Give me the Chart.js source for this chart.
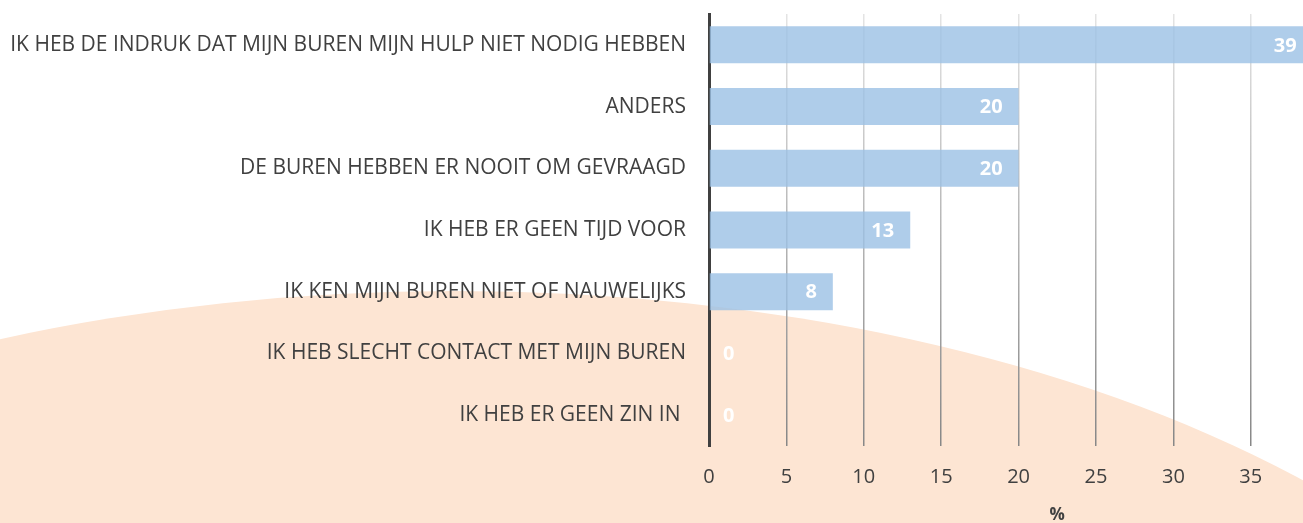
<!DOCTYPE html>
<html>
<head>
<meta charset="utf-8">
<script src="https://cdn.jsdelivr.net/npm/chart.js@4.4.1/dist/chart.umd.min.js"></script>
<style>
  html, body { margin: 0; padding: 0; background: #ffffff; overflow: hidden; }
  #frame { width: 1303px; height: 523px; overflow: hidden; position: relative; }
  #reasons { position: absolute; left: 0; top: 0; }
</style>
</head>
<body>
<div id="frame">
  <canvas id="reasons" width="1436" height="523"></canvas>
</div>
<script>
// ===== data =====
const categories = [
    'IK HEB DE INDRUK DAT MIJN BUREN MIJN HULP NIET NODIG HEBBEN',
    'ANDERS',
    'DE BUREN HEBBEN ER NOOIT OM GEVRAAGD',
    'IK HEB ER GEEN TIJD VOOR',
    'IK KEN MIJN BUREN NIET OF NAUWELIJKS',
    'IK HEB SLECHT CONTACT MET MIJN BUREN',
    'IK HEB ER GEEN ZIN IN '
];
const percentages = [39, 20, 20, 13, 8, 0, 0];
const axisMin = 0;
const axisMax = 45;
const axisStep = 5;
const axisTitle = '%';

const TEXT = '#404040';
const FONT = "'Open Sans', 'DejaVu Sans', sans-serif";

// peach blob behind the chart
const backdrop = {
    id: 'backdrop',
    beforeDraw(chart) {
        const ctx = chart.ctx;
        ctx.save();
        ctx.fillStyle = '#FDE5D3';
        ctx.beginPath();
        ctx.ellipse(455, 925, 1190, 634, 0, 0, Math.PI * 2);
        ctx.fill();
        ctx.restore();
    }
};

// white value labels at the inner end of each bar
const valueLabels = {
    id: 'valueLabels',
    afterDatasetsDraw(chart) {
        const ctx = chart.ctx;
        const meta = chart.getDatasetMeta(0);
        ctx.save();
        ctx.font = "bold 20px " + FONT;
        ctx.fillStyle = '#ffffff';
        ctx.textAlign = 'right';
        ctx.textBaseline = 'middle';
        meta.data.forEach((bar, i) => {
            const txt = String(percentages[i]);
            const w = ctx.measureText(txt).width;
            const x = Math.max(bar.x - 16, bar.base + 14 + w);
            ctx.fillText(txt, x, bar.y + 1);
        });
        ctx.restore();
    }
};

let gridGradient = null;
function gridColor(context) {
    const chart = context.chart;
    const area = chart.chartArea;
    if (!area) return '#cccccc';
    if (!gridGradient) {
        gridGradient = chart.ctx.createLinearGradient(0, area.top, 0, area.bottom);
        gridGradient.addColorStop(0, '#e4e4e4');
        gridGradient.addColorStop(1, '#878787');
    }
    return gridGradient;
}

new Chart(document.getElementById('reasons'), {
    type: 'bar',
    data: {
        labels: categories,
        datasets: [{
            data: percentages,
            backgroundColor: 'rgba(155, 193, 229, 0.8)',
            borderWidth: 0,
            categoryPercentage: 1,
            barPercentage: 0.6
        }]
    },
    options: {
        indexAxis: 'y',
        responsive: false,
        animation: false,
        layout: { padding: { top: 14, right: 15, bottom: 0, left: 0 } },
        plugins: {
            legend: { display: false },
            tooltip: { enabled: false }
        },
        scales: {
            x: {
                min: axisMin,
                max: axisMax,
                ticks: { stepSize: axisStep, color: TEXT, padding: 19, font: { family: FONT, size: 20 } },
                grid: { color: gridColor, lineWidth: 1.5, drawTicks: false },
                border: { display: false },
                title: {
                    display: true,
                    text: axisTitle,
                    color: TEXT,
                    font: { family: FONT, size: 17, weight: 'bold', lineHeight: 1 },
                    padding: { top: 0, bottom: -1 }
                },
                afterFit(scale) { scale.height = 77; }
            },
            y: {
                ticks: { color: TEXT, padding: 23, font: { family: FONT, size: 21 } },
                grid: { display: false, drawTicks: false },
                border: { display: true, color: TEXT, width: 3 },
                afterFit(scale) {
                    scale.width = 709;
                    scale.paddingTop = 0;
                    scale.paddingBottom = 0;
                }
            }
        }
    },
    plugins: [backdrop, valueLabels]
});
</script>
</body>
</html>
